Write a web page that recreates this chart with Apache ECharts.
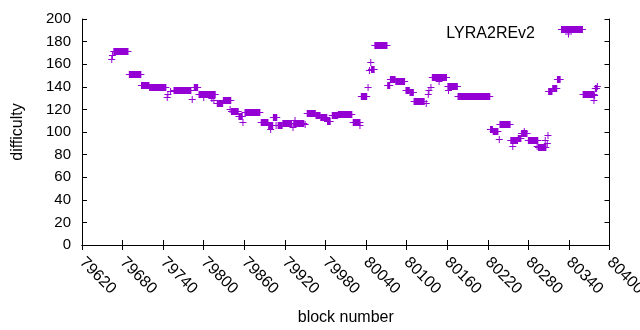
<!DOCTYPE html>
<html>
<head>
<meta charset="utf-8">
<script src="https://cdn.jsdelivr.net/npm/echarts@6/dist/echarts.min.js"></script>
<style>
  html, body { margin: 0; padding: 0; background: #fff; }
  #chart { width: 640px; height: 330px; }
</style>
</head>
<body>
<div id="chart"></div>
<script>
// runs of blocks with the same difficulty: first block, last block, difficulty
const runStart = [79664, 79665, 79667, 79690, 79708, 79720, 79746, 79747, 79751, 79756,
                  79783, 79786, 79793, 79800, 79812, 79815, 79820, 79829, 79839, 79841,
                  79852, 79858, 79861, 79885, 79896, 79899, 79903, 79907, 79910, 79917,
                  79932, 79933, 79935, 79950, 79953, 79966, 79973, 79983, 79990, 79999,
                  80021, 80031, 80033, 80043, 80045, 80047, 80048, 80053, 80072, 80076,
                  80084, 80099, 80105, 80111, 80129, 80132, 80133, 80136, 80138, 80148,
                  80161, 80162, 80176, 80224, 80228, 80237, 80238, 80254, 80257, 80265,
                  80270, 80274, 80280, 80293, 80295, 80305, 80308, 80309, 80310, 80316,
                  80323, 80329, 80361, 80377, 80378, 80379, 80382];
const runEnd   = [79664, 79665, 79688, 79707, 79719, 79744, 79746, 79747, 79751, 79781,
                  79783, 79791, 79817, 79800, 79812, 79815, 79828, 79840, 79839, 79851,
                  79857, 79858, 79883, 79895, 79902, 79899, 79908, 79907, 79916, 79930,
                  79932, 79948, 79935, 79950, 79965, 79972, 79982, 79987, 79998, 80019,
                  80031, 80031, 80041, 80043, 80045, 80047, 80052, 80071, 80075, 80083,
                  80097, 80104, 80110, 80126, 80129, 80132, 80133, 80136, 80159, 80148,
                  80175, 80162, 80223, 80227, 80235, 80237, 80253, 80264, 80257, 80269,
                  80278, 80274, 80294, 80293, 80306, 80305, 80308, 80309, 80315, 80322,
                  80327, 80360, 80377, 80377, 80378, 80381, 80382];
const runDiff  = [165, 168, 172, 151, 142, 140, 131, 134, 136, 137,
                  129, 140, 134, 131, 130, 128, 126, 128, 120, 119,
                  114, 109, 118, 109, 106, 103, 113, 106, 106, 108,
                  104, 108, 111, 107, 117, 115, 113, 110, 115, 116,
                  109, 106, 132, 140, 155, 162, 156, 177, 142, 147,
                  145, 137, 135, 127, 126, 134, 137, 140, 149, 145,
                  141, 137, 132, 103, 101, 94, 107, 93, 88, 95,
                  99, 101, 93, 88, 87, 93, 90, 97, 136, 139,
                  147, 191, 134, 128, 133, 139, 141];

const seriesName = 'LYRA2REv2';
const runs = runStart.map((s, i) => [s, runEnd[i], runDiff[i]]);

const purple = '#9400d3';
const font = '"Liberation Sans", Arial, sans-serif';

// every block is a "+" mark; a run of them merges into a bar
function renderRun(params, api) {
  const a = api.coord([api.value(0), api.value(2)]);
  const b = api.coord([api.value(1), api.value(2)]);
  const y = Math.round(a[1]) + 0.5;
  return {
    type: 'group',
    children: [
      {
        type: 'rect',
        shape: { x: a[0] - 0.5, y: y - 3.5, width: b[0] - a[0] + 1, height: 7 },
        style: { fill: purple }
      },
      {
        type: 'line',
        shape: { x1: a[0] - 3.5, y1: y, x2: b[0] + 3.5, y2: y },
        style: { stroke: purple, lineWidth: 1 }
      }
    ]
  };
}

const axisLine = { show: true, lineStyle: { color: '#000', width: 1 } };
const tick = { show: true, inside: true, length: 5, lineStyle: { color: '#000' } };

const chart = echarts.init(document.getElementById('chart'));
chart.setOption({
  animation: false,
  backgroundColor: '#fff',
  textStyle: { fontFamily: font },
  grid: { left: 82, right: 30.5, top: 19, bottom: 85, outerBoundsMode: 'none' },
  legend: {
    data: [{ name: seriesName, icon: 'path://M3,0H4V3H7V4H4V7H3V4H0V3H3Z' }],
    align: 'right',
    right: 63,
    top: 21,
    itemWidth: 7,
    itemHeight: 7,
    itemStyle: { color: purple },
    textStyle: { fontSize: 16, color: '#000', fontFamily: font, padding: [0, 25, 0, 0] }
  },
  xAxis: [
    {
      type: 'value', min: 79620, max: 80400, interval: 60,
      name: 'block number', nameLocation: 'middle', nameGap: 65,
      nameTextStyle: { fontSize: 16, color: '#000' },
      axisLine: axisLine, axisTick: tick, splitLine: { show: false },
      axisLabel: { rotate: -45, margin: 15, fontSize: 16, color: '#000', formatter: v => String(v) }
    },
    {
      type: 'value', min: 79620, max: 80400, interval: 60, position: 'top',
      axisLine: axisLine, axisTick: tick, splitLine: { show: false },
      axisLabel: { show: false }
    }
  ],
  yAxis: [
    {
      type: 'value', min: 0, max: 200, interval: 20,
      name: 'difficulty', nameLocation: 'middle', nameGap: 56,
      nameTextStyle: { fontSize: 16, color: '#000' },
      axisLine: axisLine, axisTick: tick, splitLine: { show: false },
      axisLabel: { margin: 11, fontSize: 15, color: '#000' }
    },
    {
      type: 'value', min: 0, max: 200, interval: 20, position: 'right',
      axisLine: axisLine, axisTick: tick, splitLine: { show: false },
      axisLabel: { show: false }
    }
  ],
  series: [
    {
      name: seriesName,
      type: 'custom',
      xAxisIndex: 0,
      yAxisIndex: 0,
      renderItem: renderRun,
      encode: { x: [0, 1], y: 2 },
      itemStyle: { color: purple },
      data: runs
    }
  ]
});
</script>
</body>
</html>
